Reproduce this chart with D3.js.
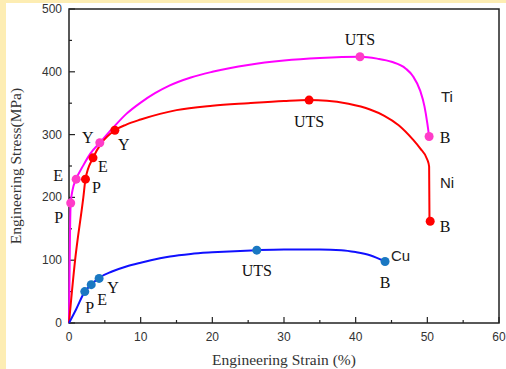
<!DOCTYPE html>
<html><head><meta charset="utf-8">
<script src="https://cdn.jsdelivr.net/npm/d3@7"></script>
<style>
html,body{margin:0;padding:0;background:#fff;}
svg{display:block;}
</style></head>
<body>
<svg id="c" width="506" height="369"></svg>
<script>
// ---- data ----
const xTicks = [0, 10, 20, 30, 40, 50, 60];
const yTicks = [0, 100, 200, 300, 400, 500];

const tiStrain = [0, 0.08, 0.15, 0.24, 0.5, 1.0, 2.0, 3.0, 4.3, 6, 8, 10, 12, 14, 17, 20, 25, 30, 35, 40.6, 43, 45, 47, 48, 49, 49.6, 50, 50.25];
const tiStress = [0, 80, 150, 191, 212, 229, 251, 270, 287, 309, 333, 351, 366, 378, 391, 400, 411, 418, 422, 424, 421, 416, 405, 393, 370, 345, 318, 297];

const niStrain = [0, 0.85, 2.0, 2.3, 3.35, 4.5, 6.4, 8, 10, 12.7, 15, 20, 25, 30, 33.5, 36, 39, 42, 44, 46, 48, 49, 50, 50.25, 50.3];
const niStress = [0, 100, 200, 229, 263, 286, 307, 316, 324, 333, 339, 346, 350, 353.5, 355, 354, 349, 340, 330, 315, 292, 278, 260, 249, 163];

const cuStrain = [0, 1, 2.2, 3.1, 4.2, 6, 8, 10, 12.7, 14.1, 17, 20, 26.2, 30, 35, 38, 40, 42, 44.1];
const cuStress = [0, 22, 50, 61, 72, 82, 90, 96, 103, 106, 110, 112.5, 116, 117, 117, 116, 113, 108, 98];

const tiPoints = [["P", 0.24, 191], ["E", 1.0, 229], ["Y", 4.3, 287], ["UTS", 40.6, 424], ["B", 50.25, 297]];
const niPoints = [["P", 2.3, 229], ["E", 3.35, 263], ["Y", 6.4, 307], ["UTS", 33.5, 355], ["B", 50.4, 162]];
const cuPoints = [["P", 2.2, 50], ["E", 3.1, 61], ["Y", 4.2, 71], ["UTS", 26.2, 116], ["B", 44.1, 98]];

const seriesNames = ["Ti", "Ni", "Cu"];

// ---- layout / style ----
const svg = d3.select("#c");
const M = {l: 69, r: 499, t: 9, b: 323};
const x = d3.scaleLinear().domain([0, 60]).range([M.l, M.r]);
const y = d3.scaleLinear().domain([0, 500]).range([M.b, M.t]);

const style = {
  Ti: {line: "#ff00ff", dot: "#ff3cc8", name: [441, 102],
       off: {P: [-12, 20], E: [-18, 2], Y: [-12, 0], UTS: [0, -12], B: [16, 7]}},
  Ni: {line: "#ff0000", dot: "#ff0000", name: [440, 188],
       off: {P: [11, 14], E: [10, 14], Y: [9, 20], UTS: [0, 27], B: [15, 11]}},
  Cu: {line: "#1010ff", dot: "#1a78c2", name: [391, 261],
       off: {P: [5, 21], E: [11, 20], Y: [14, 15], UTS: [0, 26], B: [0, 27]}}
};

// background
svg.append("rect").attr("width", 506).attr("height", 369).attr("fill", "#fff");
svg.append("rect").attr("x", 0).attr("y", 0).attr("width", 6).attr("height", 369).attr("fill", "#fdedb3");
svg.append("rect").attr("x", 0).attr("y", 0).attr("width", 506).attr("height", 3).attr("fill", "#fdedb3");

// frame
svg.append("rect").attr("x", M.l).attr("y", M.t).attr("width", M.r - M.l).attr("height", M.b - M.t)
  .attr("fill", "none").attr("stroke", "#222").attr("stroke-width", 1.5);

// ticks
const g = svg.append("g");
const xMinor = d3.range(5, 60, 10);
const yMinor = d3.range(50, 500, 100);
xTicks.forEach(v => {
  g.append("line").attr("x1", x(v)).attr("x2", x(v)).attr("y1", M.b).attr("y2", M.b - 6).attr("stroke", "#222").attr("stroke-width", 1.2);
  g.append("text").attr("x", x(v)).attr("y", 341).attr("text-anchor", "middle")
    .attr("font-family", "Liberation Sans, Arial, sans-serif").attr("font-size", 12).attr("fill", "#333").text(v);
});
xMinor.forEach(v => g.append("line").attr("x1", x(v)).attr("x2", x(v)).attr("y1", M.b).attr("y2", M.b - 3).attr("stroke", "#222").attr("stroke-width", 1.2));
yTicks.forEach(v => {
  g.append("line").attr("x1", M.l).attr("x2", M.l + 6).attr("y1", y(v)).attr("y2", y(v)).attr("stroke", "#222").attr("stroke-width", 1.2);
  g.append("text").attr("x", 62).attr("y", y(v) + 4).attr("text-anchor", "end")
    .attr("font-family", "Liberation Sans, Arial, sans-serif").attr("font-size", 12).attr("fill", "#333").text(v);
});
yMinor.forEach(v => g.append("line").attr("x1", M.l).attr("x2", M.l + 3).attr("y1", y(v)).attr("y2", y(v)).attr("stroke", "#222").attr("stroke-width", 1.2));

// axis titles
svg.append("text").attr("x", (M.l + M.r) / 2).attr("y", 365).attr("text-anchor", "middle")
  .attr("font-family", "Liberation Serif, Times New Roman, serif").attr("font-size", 15.5).attr("fill", "#333")
  .text("Engineering Strain (%)");
svg.append("text").attr("transform", `translate(21,${(M.t + M.b) / 2}) rotate(-90)`).attr("text-anchor", "middle")
  .attr("font-family", "Liberation Serif, Times New Roman, serif").attr("font-size", 15.5).attr("fill", "#333")
  .text("Engineering Stress(MPa)");

// curves
const line = d3.line().x(d => x(d[0])).y(d => y(d[1])).curve(d3.curveMonotoneX);
const series = [
  {name: "Ti", xs: tiStrain, ys: tiStress, pts: tiPoints},
  {name: "Ni", xs: niStrain, ys: niStress, pts: niPoints},
  {name: "Cu", xs: cuStrain, ys: cuStress, pts: cuPoints}
];
series.forEach(s => {
  const st = style[s.name];
  svg.append("path").attr("d", line(s.xs.map((v, i) => [v, s.ys[i]])))
    .attr("fill", "none").attr("stroke", st.line).attr("stroke-width", 2);
});
series.forEach(s => {
  const st = style[s.name];
  s.pts.forEach(p => {
    svg.append("circle").attr("cx", x(p[1])).attr("cy", y(p[2])).attr("r", 4.5).attr("fill", st.dot);
    const o = st.off[p[0]];
    svg.append("text").attr("x", x(p[1]) + o[0]).attr("y", y(p[2]) + o[1]).attr("text-anchor", "middle")
      .attr("font-family", "Liberation Serif, Times New Roman, serif").attr("font-size", 16).attr("fill", "#111")
      .text(p[0]);
  });
  svg.append("text").attr("x", st.name[0]).attr("y", st.name[1])
    .attr("font-family", "Liberation Sans, Arial, sans-serif").attr("font-size", 15).attr("fill", "#222")
    .text(s.name);
});
</script>
</body></html>
